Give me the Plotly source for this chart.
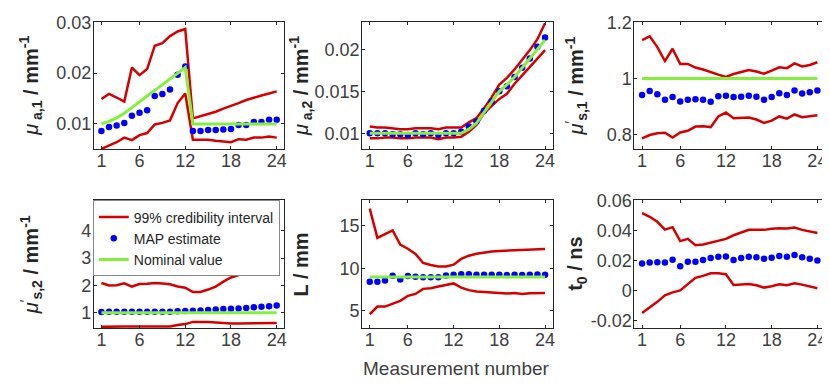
import plotly.graph_objects as go

# ---------------- data ----------------
meas = list(range(1, 25))
x_ticks = [1, 6, 12, 18, 24]

mua1_nominal = [0.0100, 0.0105, 0.0112, 0.0121, 0.0132, 0.0144, 0.0155, 0.0166, 0.0177, 0.0188, 0.0200, 0.0211,
                0.0100, 0.0100, 0.0100, 0.0100, 0.0100, 0.0100, 0.0100, 0.0100, 0.0100, 0.0100, 0.0100, 0.0100]
mua1_map = [0.0086, 0.0094, 0.0097, 0.0102, 0.0116, 0.0122, 0.0127, 0.0155, 0.0159, 0.0168, 0.0197, 0.0213,
            0.0086, 0.0086, 0.0088, 0.0088, 0.0089, 0.0090, 0.0098, 0.0098, 0.0104, 0.0104, 0.0108, 0.0108]
mua1_upper = [0.0149, 0.0159, 0.0152, 0.0144, 0.0211, 0.0196, 0.0208, 0.0254, 0.0259, 0.0273, 0.0282, 0.0287,
              0.0111, 0.0115, 0.0120, 0.0124, 0.0130, 0.0135, 0.0141, 0.0147, 0.0152, 0.0156, 0.0160, 0.0164]
mua1_lower = [0.0051, 0.0058, 0.0064, 0.0073, 0.0068, 0.0078, 0.0082, 0.0099, 0.0102, 0.0107, 0.0141, 0.0160,
              0.0069, 0.0069, 0.0069, 0.0067, 0.0066, 0.0064, 0.0070, 0.0069, 0.0073, 0.0073, 0.0075, 0.0073]

mua2_nominal = [0.0100, 0.0100, 0.0100, 0.0100, 0.0100, 0.0100, 0.0100, 0.0100, 0.0100, 0.0100, 0.0100, 0.0100,
                0.0100, 0.0105, 0.0112, 0.0125, 0.0138, 0.0150, 0.0158, 0.0167, 0.0178, 0.0189, 0.0200, 0.0211]
mua2_map = [0.0100, 0.0100, 0.0100, 0.0099, 0.0099, 0.0098, 0.0100, 0.0099, 0.0100, 0.0098, 0.0100, 0.0100,
            0.0102, 0.0108, 0.0114, 0.0127, 0.0138, 0.0150, 0.0156, 0.0167, 0.0178, 0.0189, 0.0203, 0.0214]
mua2_upper = [0.0108, 0.0107, 0.0107, 0.0106, 0.0105, 0.0105, 0.0106, 0.0106, 0.0106, 0.0105, 0.0107, 0.0107,
              0.0107, 0.0113, 0.0118, 0.0130, 0.0143, 0.0158, 0.0166, 0.0176, 0.0187, 0.0199, 0.0212, 0.0231]
mua2_lower = [0.0094, 0.0094, 0.0095, 0.0095, 0.0094, 0.0094, 0.0095, 0.0095, 0.0095, 0.0093, 0.0095, 0.0095,
              0.0096, 0.0102, 0.0110, 0.0124, 0.0133, 0.0141, 0.0147, 0.0159, 0.0169, 0.0179, 0.0189, 0.0199]

mus1_nominal = [1.0] * 24
mus1_map = [0.941, 0.956, 0.944, 0.924, 0.934, 0.918, 0.924, 0.926, 0.924, 0.917, 0.937, 0.939,
            0.934, 0.935, 0.939, 0.935, 0.924, 0.934, 0.948, 0.941, 0.957, 0.947, 0.951, 0.957]
mus1_upper = [1.137, 1.150, 1.112, 1.062, 1.106, 1.052, 1.052, 1.039, 1.032, 1.022, 1.014, 1.006,
              1.016, 1.023, 1.030, 1.025, 1.017, 1.028, 1.040, 1.037, 1.054, 1.043, 1.048, 1.058]
mus1_lower = [0.787, 0.799, 0.805, 0.807, 0.790, 0.808, 0.814, 0.829, 0.830, 0.827, 0.865, 0.879,
              0.859, 0.859, 0.861, 0.854, 0.842, 0.850, 0.865, 0.857, 0.872, 0.862, 0.866, 0.869]

mus2_nominal = [1.0] * 24
mus2_map = [1.03, 1.04, 1.04, 1.04, 1.04, 1.04, 1.04, 1.04, 1.04, 1.04, 1.06, 1.07,
            1.08, 1.09, 1.10, 1.12, 1.14, 1.15, 1.16, 1.18, 1.20, 1.22, 1.24, 1.27]
mus2_upper = [2.09, 2.00, 2.01, 2.08, 1.96, 2.05, 2.06, 2.09, 2.07, 2.04, 1.96, 1.92,
              1.76, 1.76, 1.85, 1.96, 2.14, 2.29, 2.38, 2.45, 2.53, 2.59, 2.66, 2.74]
mus2_lower = [0.49, 0.50, 0.50, 0.50, 0.50, 0.50, 0.50, 0.50, 0.50, 0.50, 0.56, 0.59,
              0.67, 0.68, 0.67, 0.65, 0.62, 0.61, 0.61, 0.61, 0.61, 0.62, 0.62, 0.63]

L_nominal = [9.0] * 24
L_map = [8.43, 8.43, 8.58, 9.14, 8.69, 9.10, 9.03, 8.95, 8.95, 8.95, 9.18, 9.25,
         9.33, 9.33, 9.25, 9.25, 9.25, 9.25, 9.22, 9.25, 9.22, 9.25, 9.30, 9.25]
L_upper = [17.04, 13.60, 14.05, 14.49, 12.80, 12.32, 11.72, 10.64, 10.41, 10.22, 10.22, 10.45,
           11.12, 11.50, 11.72, 11.87, 11.99, 12.06, 12.10, 12.17, 12.17, 12.28, 12.32, 12.28]
L_lower = [4.61, 5.51, 5.51, 5.80, 6.18, 6.78, 7.00, 7.60, 7.68, 7.87, 8.05, 8.24,
           7.75, 7.45, 7.30, 7.23, 7.19, 7.12, 7.04, 7.12, 7.00, 7.08, 7.12, 7.12]

t0_map = [0.0179, 0.0186, 0.0188, 0.0186, 0.0205, 0.0162, 0.0192, 0.0192, 0.0203, 0.0216, 0.0225, 0.0227,
          0.0203, 0.0216, 0.0225, 0.0221, 0.0212, 0.0218, 0.0229, 0.0225, 0.0236, 0.0221, 0.0212, 0.0199]
t0_upper = [0.0515, 0.0491, 0.0458, 0.0406, 0.0422, 0.0329, 0.0344, 0.0301, 0.0307, 0.0320, 0.0335, 0.0344,
            0.0368, 0.0387, 0.0404, 0.0404, 0.0404, 0.0411, 0.0415, 0.0413, 0.0419, 0.0404, 0.0391, 0.0383]
t0_lower = [-0.0151, -0.0115, -0.0076, -0.0032, -0.0013, 0.0000, 0.0039, 0.0084, 0.0097, 0.0115, 0.0115, 0.0108,
            0.0037, 0.0039, 0.0043, 0.0035, 0.0019, 0.0028, 0.0041, 0.0035, 0.0048, 0.0039, 0.0028, 0.0015]

# y-axis settings: (range, tickvals, ticktext)
y_settings = [
    ([0.005, 0.030], [0.01, 0.02, 0.03], ["0.01", "0.02", "0.03"]),
    ([0.0081, 0.0232], [0.01, 0.015, 0.02], ["0.01", "0.015", "0.02"]),
    ([0.748, 1.2], [0.8, 1.0, 1.2], ["0.8", "1", "1.2"]),
    ([0.45, 5.1], [1, 2, 3, 4], ["1", "2", "3", "4"]),
    ([3, 18], [5, 10, 15], ["5", "10", "15"]),
    ([-0.025, 0.06], [-0.02, 0, 0.02, 0.04, 0.06], ["-0.02", "0", "0.02", "0.04", "0.06"]),
]

y_titles = [
    "<i>μ</i><sub><b> a,1</b></sub><b> / mm</b><sup><b>-1</b></sup>",
    "<i>μ</i><sub><b> a,2</b></sub><b> / mm</b><sup><b>-1</b></sup>",
    "<i>μ</i><sup>′</sup><sub><b>s,1</b></sub><b> / mm</b><sup><b>-1</b></sup>",
    "<i>μ</i><sup>′</sup><sub><b>s,2</b></sub><b> / mm</b><sup><b>-1</b></sup>",
    "<b>L / mm</b>",
    "<b>t<sub>0</sub> / ns</b>",
]

panels = [
    (mua1_upper, mua1_lower, mua1_map, mua1_nominal),
    (mua2_upper, mua2_lower, mua2_map, mua2_nominal),
    (mus1_upper, mus1_lower, mus1_map, mus1_nominal),
    (mus2_upper, mus2_lower, mus2_map, mus2_nominal),
    (L_upper, L_lower, L_map, L_nominal),
    (t0_upper, t0_lower, t0_map, None),
]

# ---------------- layout geometry (page pixels; page body has an 8px margin) ----------------
OFF = 8
W, H = 830 - OFF, 385 - OFF
col_px = [(94, 285), (363, 554), (636, 827)]
row_px = [(12.5, 144), (197, 329)]
ytitle_x_px = [31, 302, 578]


def px(xp):
    return (xp - OFF) / W


def py(yp):
    return 1 - (yp - OFF) / H


RED = "#d60000"
BLUE = "#0000ff"
GREEN = "#84f03c"
AXC = "#262626"
FONT = "Liberation Sans, Arial, Helvetica, sans-serif"

fig = go.Figure()
layout_axes = {}
annotations = []

for i, (up, lo, mp, nom) in enumerate(panels):
    r, c = divmod(i, 3)
    n = i + 1
    xa = "x" if n == 1 else f"x{n}"
    ya = "y" if n == 1 else f"y{n}"
    show = (i == 3)
    fig.add_trace(go.Scatter(x=meas, y=up, mode="lines", line=dict(color=RED, width=2.5),
                             name="99% credibility interval", legendgroup="ci", showlegend=show,
                             xaxis=xa, yaxis=ya))
    fig.add_trace(go.Scatter(x=meas, y=lo, mode="lines", line=dict(color=RED, width=2.5),
                             name="99% credibility interval", legendgroup="ci", showlegend=False,
                             xaxis=xa, yaxis=ya))
    fig.add_trace(go.Scatter(x=meas, y=mp, mode="markers", marker=dict(color=BLUE, size=6.5),
                             name="MAP estimate", legendgroup="map", showlegend=show,
                             xaxis=xa, yaxis=ya))
    if nom is not None:
        fig.add_trace(go.Scatter(x=meas, y=nom, mode="lines", line=dict(color=GREEN, width=3),
                                 name="Nominal value", legendgroup="nom", showlegend=show,
                                 xaxis=xa, yaxis=ya))

    x0, x1 = col_px[c]
    y0, y1 = row_px[r]
    yr, yt, ytt = y_settings[i]
    common = dict(showline=True, linecolor=AXC, linewidth=1, mirror="ticks",
                  ticks="inside", ticklen=3, tickwidth=1, tickcolor=AXC,
                  showgrid=False, zeroline=False,
                  tickfont=dict(family=FONT, size=18, color="#404040"))
    layout_axes["xaxis" if n == 1 else f"xaxis{n}"] = dict(
        domain=[px(x0), px(x1)], anchor=ya, range=[0, 25],
        tickvals=x_ticks, ticktext=[str(v) for v in x_ticks],
        ticklabelstandoff=-5, **common)
    layout_axes["yaxis" if n == 1 else f"yaxis{n}"] = dict(
        domain=[py(y1), py(y0)], anchor=xa, range=yr,
        tickvals=yt, ticktext=ytt, ticklabelstandoff=-2, **common)
    annotations.append(dict(
        text=y_titles[i], xref="paper", yref="paper",
        x=px(ytitle_x_px[c]), y=py((y0 + y1) / 2),
        xanchor="center", yanchor="middle", textangle=-90, showarrow=False,
        font=dict(family=FONT, size=20, color=AXC)))

annotations.append(dict(
    text="Measurement number", xref="paper", yref="paper",
    x=px(458), y=py(371), xanchor="center", yanchor="middle", showarrow=False,
    font=dict(family=FONT, size=19, color="#404040")))

fig.update_layout(
    width=W, height=H, margin=dict(l=0, r=0, t=0, b=0),
    paper_bgcolor="white", plot_bgcolor="white",
    showlegend=True,
    legend=dict(x=px(93), y=py(197), xanchor="left", yanchor="top",
                bgcolor="white", bordercolor="#888888", borderwidth=1,
                font=dict(family=FONT, size=14, color="#262626"),
                tracegroupgap=0, itemwidth=30),
    annotations=annotations,
    **layout_axes,
)

fig.write_html("out.html")
